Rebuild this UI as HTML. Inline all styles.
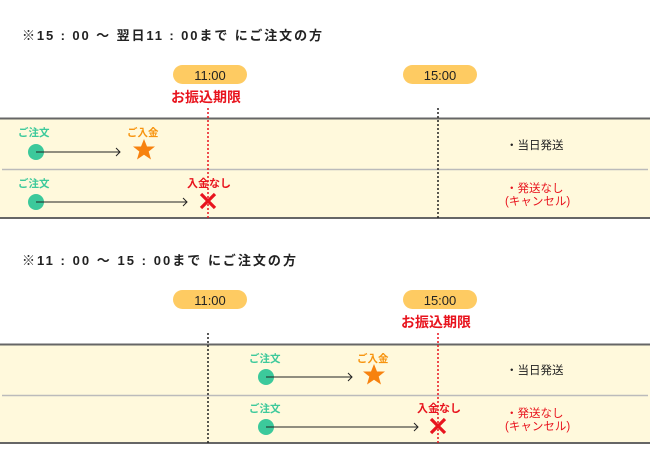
<!DOCTYPE html>
<html><head><meta charset="utf-8"><style>
html,body{margin:0;padding:0;background:#fff;}
svg{display:block;font-family:"Liberation Sans","Noto Sans CJK JP",sans-serif;}
</style></head><body>
<svg width="650" height="450" viewBox="0 0 650 450" xmlns="http://www.w3.org/2000/svg">
<defs>
<g id="star"><polygon points="0,-11 3,-3.5 11,-3.5 4.7,1.5 7,9.5 0,4.8 -7,9.5 -4.7,1.5 -11,-3.5 -3,-3.5" fill="#f7820f"/></g>
<g id="x"><path d="M-7,-7 L7,7 M7,-7 L-7,7" stroke="#e8141e" stroke-width="3.2"/></g>
</defs>
<!-- Section 1 -->
<text x="22" y="40" font-size="13" font-weight="bold" fill="#222" textLength="300" lengthAdjust="spacing">※15 : 00 ～ 翌日11 : 00まで にご注文の方</text>
<rect x="0" y="118" width="650" height="100" fill="#fff9dc"/>
<line x1="0" y1="118.5" x2="650" y2="118.5" stroke="#666" stroke-width="2"/>
<line x1="2" y1="169.5" x2="648" y2="169.5" stroke="#bbb" stroke-width="1.5"/>
<line x1="0" y1="218" x2="650" y2="218" stroke="#666" stroke-width="2"/>
<rect x="173" y="65" width="74" height="19" rx="9.5" fill="#fecb62"/>
<text x="210" y="80" font-size="13" text-anchor="middle" fill="#222">11:00</text>
<rect x="403" y="65" width="74" height="19" rx="9.5" fill="#fecb62"/>
<text x="440" y="80" font-size="13" text-anchor="middle" fill="#222">15:00</text>
<text x="206" y="102" font-size="14" font-weight="bold" text-anchor="middle" fill="#e8141e">お振込期限</text>
<line x1="208" y1="108" x2="208" y2="218" stroke="#e8141e" stroke-width="1.5" stroke-dasharray="2,2"/>
<line x1="438" y1="108" x2="438" y2="218" stroke="#222" stroke-width="1.5" stroke-dasharray="2,2"/>
<text x="18" y="136" font-size="10.5" font-weight="bold" fill="#3cc99b">ご注文</text>
<circle cx="36" cy="152" r="8" fill="#3cc99b"/>
<line x1="36" y1="152" x2="120" y2="152" stroke="#222" stroke-width="1"/>
<path d="M116,148 L120,152 L116,156" fill="none" stroke="#222" stroke-width="1"/>
<text x="127" y="136" font-size="10.5" font-weight="bold" fill="#f7940f">ご入金</text>
<use href="#star" x="144" y="150"/>
<text x="18" y="187" font-size="10.5" font-weight="bold" fill="#3cc99b">ご注文</text>
<circle cx="36" cy="202" r="8" fill="#3cc99b"/>
<line x1="36" y1="202" x2="187" y2="202" stroke="#222" stroke-width="1"/>
<path d="M183,198 L187,202 L183,206" fill="none" stroke="#222" stroke-width="1"/>
<text x="187" y="187" font-size="11" font-weight="bold" fill="#e8141e">入金なし</text>
<use href="#x" x="208" y="201"/>
<text x="506" y="149" font-size="11.5" fill="#222">・当日発送</text>
<text x="506" y="192" font-size="11.5" fill="#e8141e">・発送なし</text>
<text x="505" y="205" font-size="11.5" fill="#e8141e">(キャンセル)</text>

<!-- Section 2 -->
<text x="22" y="265" font-size="13" font-weight="bold" fill="#222" textLength="274" lengthAdjust="spacing">※11 : 00 ～ 15 : 00まで にご注文の方</text>
<rect x="0" y="344" width="650" height="99" fill="#fff9dc"/>
<line x1="0" y1="344.5" x2="650" y2="344.5" stroke="#666" stroke-width="2"/>
<line x1="2" y1="395.5" x2="648" y2="395.5" stroke="#bbb" stroke-width="1.5"/>
<line x1="0" y1="443" x2="650" y2="443" stroke="#666" stroke-width="2"/>
<rect x="173" y="290" width="74" height="19" rx="9.5" fill="#fecb62"/>
<text x="210" y="305" font-size="13" text-anchor="middle" fill="#222">11:00</text>
<rect x="403" y="290" width="74" height="19" rx="9.5" fill="#fecb62"/>
<text x="440" y="305" font-size="13" text-anchor="middle" fill="#222">15:00</text>
<text x="436" y="327" font-size="14" font-weight="bold" text-anchor="middle" fill="#e8141e">お振込期限</text>
<line x1="208" y1="333" x2="208" y2="443" stroke="#222" stroke-width="1.5" stroke-dasharray="2,2"/>
<line x1="438" y1="333" x2="438" y2="443" stroke="#e8141e" stroke-width="1.5" stroke-dasharray="2,2"/>
<text x="249" y="362" font-size="10.5" font-weight="bold" fill="#3cc99b">ご注文</text>
<circle cx="266" cy="377" r="8" fill="#3cc99b"/>
<line x1="266" y1="377" x2="352" y2="377" stroke="#222" stroke-width="1"/>
<path d="M348,373 L352,377 L348,381" fill="none" stroke="#222" stroke-width="1"/>
<text x="357" y="362" font-size="10.5" font-weight="bold" fill="#f7940f">ご入金</text>
<use href="#star" x="374" y="375"/>
<text x="249" y="412" font-size="10.5" font-weight="bold" fill="#3cc99b">ご注文</text>
<circle cx="266" cy="427" r="8" fill="#3cc99b"/>
<line x1="266" y1="427" x2="418" y2="427" stroke="#222" stroke-width="1"/>
<path d="M414,423 L418,427 L414,431" fill="none" stroke="#222" stroke-width="1"/>
<text x="417" y="412" font-size="11" font-weight="bold" fill="#e8141e">入金なし</text>
<use href="#x" x="438" y="426"/>
<text x="506" y="374" font-size="11.5" fill="#222">・当日発送</text>
<text x="506" y="417" font-size="11.5" fill="#e8141e">・発送なし</text>
<text x="505" y="430" font-size="11.5" fill="#e8141e">(キャンセル)</text>
</svg>
</body></html>
